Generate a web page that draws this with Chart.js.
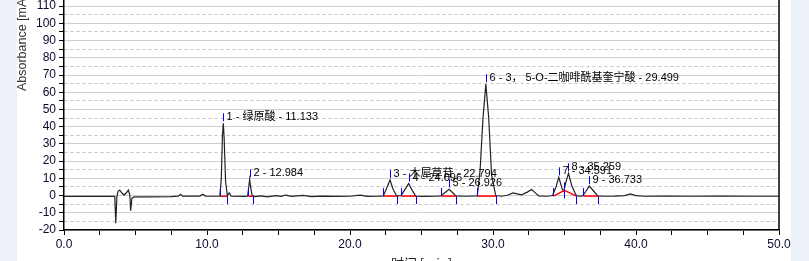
<!DOCTYPE html>
<html>
<head>
<meta charset="utf-8">
<script src="https://cdn.jsdelivr.net/npm/chart.js@4.4.0/dist/chart.umd.min.js"></script>
<style>
    html, body { margin: 0; padding: 0; background: #edf1fa; overflow: hidden; }
    #wrap { position: absolute; left: 0; top: -24px; width: 809px; height: 295px; }
</style>
</head>
<body>
<div id="wrap"><canvas id="chrom" width="809" height="295"></canvas></div>
<script>
(function () {
    "use strict";

    // chromatogram trace
    var timeMin = [0, 3.55, 3.62, 3.7, 3.78, 3.9, 4.05, 4.2, 4.35, 4.5, 4.6, 4.66, 4.75, 4.9, 6.0, 7.5, 8.0, 8.15, 8.3, 9.5,
        9.7, 9.9, 10.5, 10.9, 11.0, 11.08, 11.14, 11.2, 11.3, 11.42, 11.55, 11.7, 12.7, 12.84, 12.92, 12.98, 13.05, 13.15, 13.3, 13.8,
        14.2, 14.8, 15.2, 15.5, 15.9, 16.7, 17.3, 18.0, 19.0, 20.0, 20.7, 21.2, 22.0, 22.33, 22.55, 22.8, 23.0, 23.26, 23.57, 23.8,
        24.1, 24.35, 24.6, 25.2, 26.0, 26.36, 26.65, 26.93, 27.2, 27.41, 28.0, 28.9, 29.1, 29.3, 29.5, 29.7, 29.9, 30.19, 30.6, 31.0,
        31.4, 31.7, 32.0, 32.4, 32.7, 32.9, 33.2, 33.8, 34.17, 34.4, 34.6, 34.85, 34.95, 35.1, 35.28, 35.5, 35.8, 36.0, 36.27, 36.5,
        36.74, 37.05, 37.32, 37.8, 38.5, 39.2, 39.6, 40.0, 40.6, 42.0, 44.0, 46.0, 48.0, 50.0];
    var absorbance = [-0.5, -0.5, -16, -0.5, 2.5, 3.2, 1.5, 0.3, 1.5, 3.2, 0.5, -8.8, -1.5, -0.8, -0.8, -0.6, -0.3, 0.8, -0.3, -0.3,
        0.8, -0.3, -0.4, -0.3, 10, 35, 42, 33, 8, 0, 1.6, -0.4, -0.5, -0.3, 5, 9.4, 5, 0.3, -0.6, -0.2,
        -0.7, 0, -0.5, 0.3, -0.5, 0.1, -0.6, -0.3, -0.5, -0.4, 0.3, -0.5, -0.4, -0.2, 4, 9, 4, -0.2, 0, 3,
        7, 3, -0.3, -0.5, -0.4, -0.2, 1.8, 3.6, 1.5, -0.2, -0.4, -0.2, 15, 45, 64.7, 45, 12, 0, -0.4, 0.2,
        1.5, 1.0, 0.4, 2.0, 3.5, 2.0, -0.2, -0.4, 0, 5, 10.6, 3.5, 2.4, 8, 12.9, 6, 0.3, -0.4, -0.2, 2.5,
        5.5, 2.5, -0.2, -0.4, -0.3, 0, 1.0, 0, -0.4, -0.3, -0.4, -0.3, -0.4, -0.4];

    // integrated peaks
    var peakRT = [11.133, 12.984, 22.794, 24.096, 26.926, 29.499, 34.591, 35.259, 36.733];
    var peakName = ["绿原酸", "", "木犀草苷", "", "", "3， 5-O-二咖啡酰基奎宁酸", "", "", ""];
    var peakStart = [10.9, 12.84, 22.33, 23.57, 26.36, 28.9, 34.17, 34.95, 36.27];
    var peakEnd = [11.42, 13.24, 23.26, 24.6, 27.41, 30.19, 34.95, 35.8, 37.32];
    var baseStart = [-0.4, -0.4, -0.3, -0.3, -0.3, -0.3, -0.3, 3.0, -0.3];
    var baseEnd = [-0.4, -0.4, -0.3, -0.3, -0.3, -0.3, 3.0, -0.3, -0.3];

    var yTickValues = [];
    for (var v = -20; v <= 120; v += 5)
        yTickValues.push(v);

    var points = [];
    for (var i = 0; i < timeMin.length; i++)
        points.push({x: timeMin[i], y: absorbance[i]});

    function seg(ctx, x1, y1, x2, y2) {
        ctx.beginPath();
        ctx.moveTo(x1, y1);
        ctx.lineTo(x2, y2);
        ctx.stroke();
    }

    var panel = {
        id: "panel",
        beforeDraw: function (chart) {
            var ctx = chart.ctx;
            ctx.save();
            ctx.fillStyle = "#edf1fa";
            ctx.fillRect(0, 0, chart.width, chart.height);
            ctx.fillStyle = "#ffffff";
            ctx.fillRect(17, 0, 774, chart.height);
            ctx.restore();
        },
        afterDraw: function (chart) {
            var ctx = chart.ctx, a = chart.chartArea;
            ctx.save();
            ctx.strokeStyle = "#000000";
            ctx.lineWidth = 1.5;
            seg(ctx, a.right, a.top, a.right, a.bottom);
            ctx.restore();
        }
    };

    var peakMarks = {
        id: "peakMarks",
        afterDatasetsDraw: function (chart) {
            var xs = chart.scales.x, ys = chart.scales.y, ctx = chart.ctx;
            ctx.save();
            ctx.font = '11px "Liberation Sans", Arial, "Noto Sans CJK SC"';
            ctx.textBaseline = "middle";
            for (var i = 0; i < peakRT.length; i++) {
                var x1 = Math.round(xs.getPixelForValue(peakStart[i])) + 0.5;
                var y1 = ys.getPixelForValue(baseStart[i]);
                var x2 = Math.round(xs.getPixelForValue(peakEnd[i])) + 0.5;
                var y2 = ys.getPixelForValue(baseEnd[i]);
                ctx.lineWidth = 1.5;
                ctx.strokeStyle = "#ff0000";
                seg(ctx, x1, y1, x2, y2);
                ctx.lineWidth = 1;
                ctx.strokeStyle = "#0000ff";
                seg(ctx, x1, y1, x1, y1 - 8);
                seg(ctx, x2, y2, x2, y2 + 8);

                var top = -Infinity;
                for (var j = 0; j < timeMin.length; j++)
                    if (timeMin[j] >= peakStart[i] && timeMin[j] <= peakEnd[i] && absorbance[j] > top)
                        top = absorbance[j];
                var px = Math.round(xs.getPixelForValue(peakRT[i])) + 0.5;
                var py = ys.getPixelForValue(top);
                seg(ctx, px, py - 10, px, py - 2);
                var text = (i + 1) + " - " + (peakName[i] ? peakName[i] + " - " : "") + peakRT[i].toFixed(3);
                ctx.fillStyle = "#000000";
                ctx.fillText(text, px + 3, py - 6);
            }
            ctx.restore();
        }
    };

    var ctx = document.getElementById("chrom").getContext("2d");
    new Chart(ctx, {
        type: "line",
        data: {
            datasets: [{
                data: points,
                borderColor: "#222222",
                borderWidth: 1.2,
                pointRadius: 0,
                tension: 0,
                fill: false
            }]
        },
        options: {
            responsive: false,
            animation: false,
            devicePixelRatio: 1,
            layout: {padding: {left: 0, right: 30, top: 10, bottom: 0}},
            plugins: {legend: {display: false}, tooltip: {enabled: false}},
            scales: {
                x: {
                    type: "linear",
                    min: 0,
                    max: 50,
                    afterFit: function (scale) { scale.height = 41; },
                    ticks: {
                        stepSize: 2.5,
                        autoSkip: false,
                        maxRotation: 0,
                        color: "#0a0a30",
                        font: {family: '"Liberation Sans", Arial', size: 12},
                        padding: 2,
                        callback: function (value) { return value % 10 === 0 ? value.toFixed(1) : ""; }
                    },
                    grid: {drawOnChartArea: false, drawTicks: true, tickLength: 5, tickColor: "#000000"},
                    border: {color: "#000000", width: 1.5},
                    title: {
                        display: true,
                        text: "时间 [min]",
                        color: "#222222",
                        font: {family: '"Noto Sans CJK SC", "Liberation Sans"', size: 13},
                        padding: {top: 4, bottom: 0}
                    }
                },
                y: {
                    type: "linear",
                    min: -20,
                    max: 121.6,
                    afterFit: function (scale) { scale.width = 64; },
                    afterBuildTicks: function (scale) {
                        scale.ticks = yTickValues.map(function (t) { return {value: t}; });
                    },
                    ticks: {
                        autoSkip: false,
                        color: "#0a0a30",
                        font: {family: '"Liberation Sans", Arial', size: 12},
                        padding: 3,
                        callback: function (value) { return (value % 10 === 0 && value <= 110) ? String(value) : ""; }
                    },
                    grid: {
                        color: function (c) { return (c.tick && c.tick.value % 10 !== 0) ? "#c4c4c4" : "#cfcfcf"; },
                        lineWidth: 1,
                        tickLength: function (c) { return (c.tick && c.tick.value % 10 !== 0) ? 3 : 5; },
                        tickColor: "#000000"
                    },
                    border: {
                        color: "#000000",
                        width: 1.5,
                        dash: function (c) { return (c.tick && c.tick.value % 10 !== 0) ? [3, 3] : []; }
                    },
                    title: {
                        display: true,
                        text: "Absorbance [mAU]",
                        align: "end",
                        color: "#333333",
                        font: {family: '"Liberation Sans", Arial', size: 12.5},
                        padding: {top: 15, bottom: 0}
                    }
                }
            }
        },
        plugins: [panel, peakMarks]
    });
}());
</script>
</body>
</html>
